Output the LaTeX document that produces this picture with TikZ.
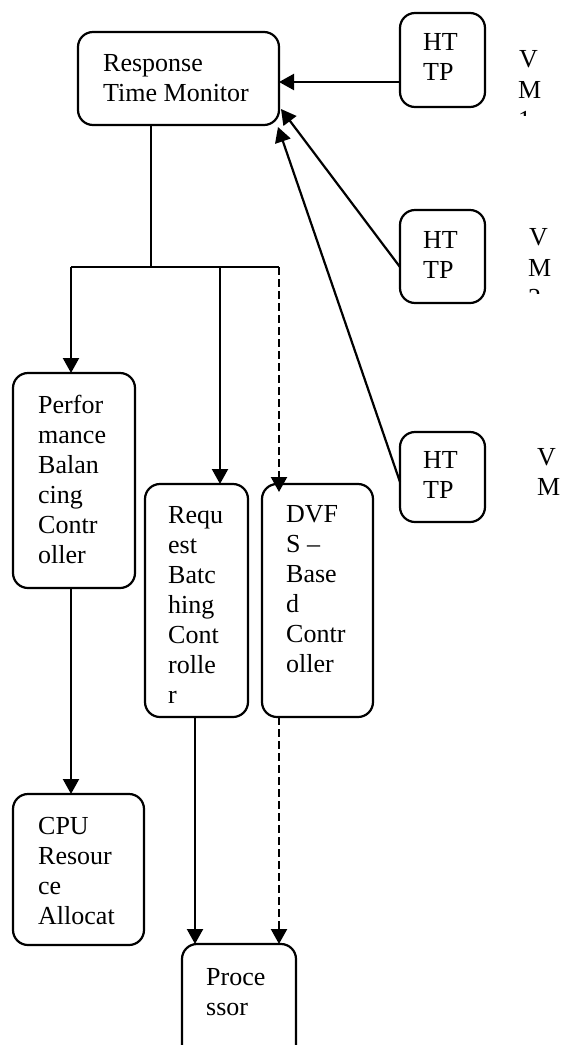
\documentclass[tikz,border=0pt]{standalone}
\usepackage{fontspec}
\setmainfont{Liberation Serif}
\usetikzlibrary{arrows.meta}
\tikzset{
  box/.style={draw, line width=2.2pt, rounded corners=15pt, inner sep=0pt, outer sep=0pt, anchor=north west},
  txt/.style={anchor=base west, inner sep=0pt, font=\fontsize{26}{30}\selectfont},
  ln/.style={line width=2.2pt},
  arr/.style={ln, -{Triangle[length=15pt,width=16pt]}},
  dsh/.style={dash pattern=on 8pt off 4pt}
}
\newcommand\textlines[4]{%
  \foreach \t [count=\i from 0] in {#4} {\node[txt] (#1-\i) at (#2,{#3+30*\i}) {\t};}}
\begin{document}
\begin{tikzpicture}[x=1pt,y=-1pt]
\useasboundingbox (0,0) rectangle (563,1045);
% boxes
\node[box, minimum width=201pt, minimum height=93pt] (rtm) at (78,32) {};
\node[box, minimum width=85pt, minimum height=94pt] (h1) at (400,13) {};
\node[box, minimum width=85pt, minimum height=93pt] (h2) at (400,210) {};
\node[box, minimum width=85pt, minimum height=90pt] (h3) at (400,432) {};
\node[box, minimum width=122pt, minimum height=215pt] (perf) at (13,373) {};
\node[box, minimum width=103pt, minimum height=233pt] (req) at (145,484) {};
\node[box, minimum width=111pt, minimum height=233pt] (dvfs) at (262,484) {};
\node[box, minimum width=131pt, minimum height=151pt] (cpu) at (13,794) {};
\node[box, minimum width=114pt, minimum height=116pt] (proc) at (182,944) {};
% texts
\textlines{rtmt}{103}{71}{Response,Time Monitor}
\textlines{h1t}{423}{50}{HT,TP}
\textlines{h2t}{423}{248}{HT,TP}
\textlines{h3t}{423}{468}{HT,TP}
\textlines{perft}{38}{413}{Perfor,mance,Balan,cing,Contr,oller}
\textlines{reqt}{168}{523}{Requ,est,Batc,hing,Cont,rolle,r}
\textlines{dvfst}{286}{522}{DVF,S –,Base,d,Contr,oller}
\textlines{cput}{38}{834}{CPU,Resour,ce,Allocat}
\textlines{proct}{206}{985}{Proce,ssor}
\begin{scope}
\clip (500,20) rectangle (563,115);
\node[txt] (vm1a) at (519,67) {V};
\node[txt] (vm1b) at (518,98) {M};
\node[txt] (vm1c) at (518,128) {1};
\end{scope}
\begin{scope}
\clip (500,200) rectangle (563,293);
\node[txt] (vm2a) at (529,245) {V};
\node[txt] (vm2b) at (528,276) {M};
\node[txt] (vm2c) at (528,306) {2};
\end{scope}
\node[txt] (vm3a) at (537,465) {V};
\node[txt] (vm3b) at (537,495) {M};
% connectors
\coordinate (j) at (151,267);
\coordinate (jl) at (71,267);
\coordinate (jm) at (220,267);
\coordinate (jr) at (279,267);
\coordinate (pc) at (195,0);
\draw[ln] (rtm.south -| j) -- (j);
\draw[ln] (jl) -- (jr);
\draw[arr] (jl) -- (jl |- perf.north);
\draw[arr] (jm) -- (jm |- req.north);
\draw[arr,dsh,shorten >=-8pt] (jr) -- (jr |- dvfs.north);
\draw[arr] (jl |- perf.south) -- (jl |- cpu.north);
\draw[arr] (pc |- req.south) -- (pc |- proc.north);
\draw[arr,dsh] (jr |- dvfs.south) -- (jr |- proc.north);
\coordinate (s1) at (400,82);
\coordinate (s2) at (400,267);
\coordinate (e2) at (281,109);
\coordinate (s3) at (400,482);
\coordinate (e3) at (278,127);
\draw[arr] (s1) -- (rtm.east |- s1);
\draw[arr] (s2) -- (e2);
\draw[arr] (s3) -- (e3);
\end{tikzpicture}
\end{document}
